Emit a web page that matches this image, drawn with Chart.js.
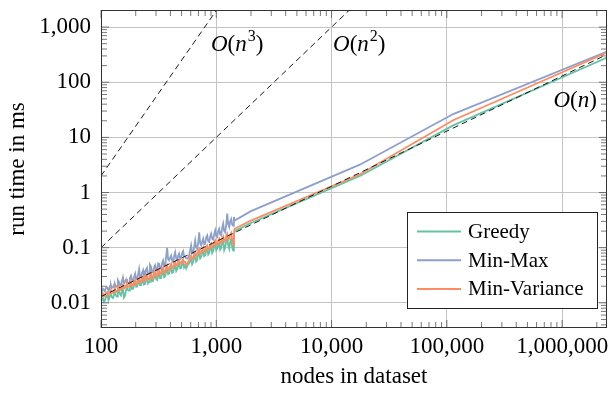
<!DOCTYPE html>
<html>
<head>
<meta charset="utf-8">
<script src="https://cdn.jsdelivr.net/npm/chart.js@4.4.1/dist/chart.umd.min.js"></script>
<style>
  html, body { margin: 0; padding: 0; background: #fff; }
  #wrap { width: 609px; height: 397px; }
</style>
</head>
<body>
<div id="wrap"><canvas id="runtime"></canvas></div>
<script>
// nodes in dataset (x values)
const nodes = [
    100, 102, 104, 106, 108, 110, 113, 115, 117, 120,
    122, 124, 127, 130, 132, 135, 138, 140, 143, 146,
    149, 152, 155, 158, 162, 165, 168, 171, 175, 178,
    182, 186, 190, 194, 198, 202, 206, 210, 214, 218,
    223, 227, 232, 236, 241, 246, 251, 256, 261, 266,
    272, 277, 283, 289, 295, 301, 307, 313, 319, 325,
    332, 339, 346, 353, 360, 367, 375, 382, 390, 398,
    406, 414, 422, 431, 440, 449, 458, 467, 476, 486,
    496, 506, 516, 526, 537, 548, 559, 570, 582, 593,
    605, 617, 630, 643, 656, 669, 683, 697, 711, 725,
    740, 755, 770, 785, 801, 817, 834, 851, 868, 885,
    903, 921, 940, 959, 979, 999, 1019, 1039, 1060, 1081,
    1103, 1125, 1148, 1171, 1195, 1219, 1244, 1269, 1295, 1321,
    1348, 1375, 1403, 1421, 1440,
    2000, 17600, 113500, 2450000,
];

// run time in ms
const greedy = [
    0.0113, 0.0118, 0.0122, 0.0105, 0.011, 0.0128, 0.0136, 0.0121, 0.0117, 0.0135,
    0.0146, 0.0128, 0.0122, 0.0142, 0.0157, 0.0135, 0.013, 0.0158, 0.017, 0.0145,
    0.0136, 0.0162, 0.018, 0.0125, 0.0136, 0.0175, 0.0198, 0.0172, 0.0167, 0.0195,
    0.0215, 0.0178, 0.018, 0.021, 0.024, 0.0195, 0.0198, 0.0228, 0.0254, 0.021,
    0.021, 0.0245, 0.027, 0.0215, 0.022, 0.026, 0.029, 0.0225, 0.024, 0.028,
    0.031, 0.0245, 0.025, 0.029, 0.034, 0.027, 0.026, 0.031, 0.036, 0.028,
    0.028, 0.034, 0.039, 0.029, 0.03, 0.037, 0.041, 0.033, 0.034, 0.04,
    0.046, 0.035, 0.036, 0.043, 0.05, 0.038, 0.041, 0.047, 0.052, 0.042,
    0.043, 0.05, 0.055, 0.044, 0.048, 0.042, 0.046, 0.05, 0.052, 0.058,
    0.063, 0.05, 0.055, 0.066, 0.072, 0.056, 0.06, 0.075, 0.083, 0.064,
    0.068, 0.08, 0.089, 0.07, 0.072, 0.088, 0.095, 0.075, 0.08, 0.098,
    0.105, 0.08, 0.087, 0.108, 0.115, 0.09, 0.095, 0.112, 0.12, 0.092,
    0.1, 0.125, 0.136, 0.09, 0.1, 0.13, 0.15, 0.11, 0.095, 0.13,
    0.146, 0.1, 0.089, 0.16, 0.2,
    0.28, 2.0, 16.5, 280,
];
const minMax = [
    0.0167, 0.0158, 0.018, 0.0172, 0.0163, 0.0185, 0.019, 0.0176, 0.017, 0.0205,
    0.021, 0.0185, 0.019, 0.0215, 0.022, 0.0195, 0.020, 0.026, 0.024, 0.021,
    0.021, 0.025, 0.029, 0.0225, 0.024, 0.0265, 0.027, 0.022, 0.023, 0.028,
    0.031, 0.026, 0.025, 0.03, 0.034, 0.027, 0.026, 0.033, 0.041, 0.03,
    0.029, 0.035, 0.039, 0.03, 0.031, 0.04, 0.043, 0.033, 0.034, 0.049,
    0.045, 0.036, 0.035, 0.044, 0.048, 0.04, 0.038, 0.052, 0.051, 0.042,
    0.041, 0.053, 0.059, 0.045, 0.046, 0.068, 0.1, 0.062, 0.059, 0.066,
    0.072, 0.058, 0.055, 0.07, 0.083, 0.064, 0.06, 0.071, 0.078, 0.062,
    0.066, 0.08, 0.087, 0.07, 0.069, 0.064, 0.063, 0.066, 0.072, 0.09,
    0.11, 0.08, 0.079, 0.105, 0.136, 0.1, 0.095, 0.125, 0.19, 0.12,
    0.11, 0.13, 0.146, 0.115, 0.118, 0.155, 0.168, 0.13, 0.127, 0.16,
    0.18, 0.145, 0.14, 0.175, 0.206, 0.16, 0.156, 0.2, 0.22, 0.175,
    0.168, 0.23, 0.273, 0.2, 0.19, 0.26, 0.414, 0.27, 0.237, 0.3,
    0.33, 0.26, 0.25, 0.36, 0.31,
    0.46, 3.2, 26.5, 360,
];
const minVariance = [
    0.013, 0.0139, 0.0146, 0.0132, 0.0136, 0.0151, 0.0157, 0.0144, 0.0142, 0.016,
    0.0167, 0.0152, 0.015, 0.0172, 0.018, 0.0158, 0.0163, 0.0185, 0.0198, 0.0172,
    0.017, 0.0205, 0.0215, 0.0182, 0.019, 0.021, 0.0227, 0.0195, 0.0198, 0.0225,
    0.024, 0.0205, 0.021, 0.0245, 0.026, 0.0215, 0.022, 0.0262, 0.028, 0.0235,
    0.024, 0.0285, 0.03, 0.025, 0.0254, 0.031, 0.033, 0.0265, 0.027, 0.032,
    0.035, 0.0285, 0.028, 0.034, 0.038, 0.031, 0.03, 0.037, 0.04, 0.033,
    0.033, 0.04, 0.044, 0.036, 0.035, 0.043, 0.048, 0.04, 0.039, 0.046,
    0.051, 0.043, 0.044, 0.05, 0.055, 0.047, 0.048, 0.056, 0.059, 0.05,
    0.051, 0.058, 0.062, 0.054, 0.055, 0.049, 0.05, 0.056, 0.06, 0.068,
    0.072, 0.062, 0.066, 0.076, 0.083, 0.07, 0.072, 0.088, 0.095, 0.078,
    0.08, 0.092, 0.1, 0.084, 0.087, 0.102, 0.11, 0.092, 0.095, 0.112,
    0.12, 0.1, 0.105, 0.125, 0.136, 0.112, 0.115, 0.135, 0.146, 0.118,
    0.12, 0.145, 0.16, 0.13, 0.136, 0.165, 0.18, 0.14, 0.146, 0.17,
    0.185, 0.14, 0.11, 0.17, 0.22,
    0.31, 2.15, 20.5, 345,
];

// reference complexity lines, end points only
const refNodes = [100, 2450000];
const oN = [0.013, 318.5];
const oN2 = [0.1, 6.0e7];
const oN3 = [2, 2.94e13];

const xTicks = [100, 1000, 10000, 100000, 1000000];
const yTicks = [0.01, 0.1, 1, 10, 100, 1000];

const serif = '"Liberation Serif", "Times New Roman", serif';
Chart.defaults.font.family = serif;
Chart.defaults.color = "#000";

function pts(xs, ys) {
    return xs.map((x, i) => ({ x: x, y: ys[i] }));
}

const series = [
    { label: "Greedy", data: greedy, color: "#66c2a5", order: 3 },
    { label: "Min-Max", data: minMax, color: "#8da0cb", order: 2 },
    { label: "Min-Variance", data: minVariance, color: "#fc8d62", order: 1 },
];

const datasets = series.map((s) => ({
    label: s.label,
    data: pts(nodes, s.data),
    borderColor: s.color,
    borderWidth: 1.8,
    pointRadius: 0,
    tension: 0,
    order: s.order,
}));

[oN, oN2, oN3].forEach((d) => {
    datasets.push({
        label: "",
        data: pts(refNodes, d),
        borderColor: "#1a1a1a",
        borderWidth: 1,
        borderDash: [6, 4],
        pointRadius: 0,
        order: 0,
    });
});

// O(n^k) labels: [exponent, node position, value at baseline]
const bigO = [
    ["3", 900, 361],
    ["2", 10300, 361],
    ["", 840000, 36],
];

function drawBigO(ctx, x, y, exp) {
    const it = "italic 23px " + serif;
    const up = "23px " + serif;
    const parts = [[it, "O"], [up, "("], [it, "n"]];
    ctx.textBaseline = "alphabetic";
    ctx.textAlign = "left";
    parts.forEach((p) => {
        ctx.font = p[0];
        ctx.fillText(p[1], x, y);
        x += ctx.measureText(p[1]).width;
    });
    if (exp) {
        ctx.font = "16px " + serif;
        ctx.fillText(exp, x + 1, y - 10);
        x += ctx.measureText(exp).width + 1;
    }
    ctx.font = up;
    ctx.fillText(")", x, y);
}

const decor = {
    id: "decor",
    afterDatasetsDraw(chart) {
        const ctx = chart.ctx;
        const a = chart.chartArea;
        const xs = chart.scales.x;
        const ys = chart.scales.y;
        ctx.save();

        // minor and major tick marks on all four sides
        ctx.strokeStyle = "#555";
        ctx.lineWidth = 0.8;
        ctx.beginPath();
        for (let e = 2; e <= 6; e++) {
            for (let m = 1; m <= 9; m++) {
                const v = m * Math.pow(10, e);
                if (v < xs.min || v > xs.max) continue;
                const px = xs.getPixelForValue(v);
                const len = m === 1 ? 8 : 6;
                ctx.moveTo(px, a.bottom);
                ctx.lineTo(px, a.bottom - len);
                ctx.moveTo(px, a.top);
                ctx.lineTo(px, a.top + len);
            }
        }
        for (let e = -3; e <= 3; e++) {
            for (let m = 1; m <= 9; m++) {
                const v = m * Math.pow(10, e);
                if (v < ys.min || v > ys.max) continue;
                const py = ys.getPixelForValue(v);
                const len = m === 1 ? 8 : 6;
                ctx.moveTo(a.left, py);
                ctx.lineTo(a.left + len, py);
                ctx.moveTo(a.right, py);
                ctx.lineTo(a.right - len, py);
            }
        }
        ctx.stroke();

        // frame
        ctx.strokeStyle = "#333";
        ctx.lineWidth = 1;
        ctx.strokeRect(a.left + 0.5, a.top + 0.5, a.right - a.left - 1, a.bottom - a.top - 1);

        // complexity labels
        ctx.fillStyle = "#000";
        bigO.forEach((b) => {
            drawBigO(ctx, xs.getPixelForValue(b[1]), ys.getPixelForValue(b[2]), b[0]);
        });

        // legend box, bottom right inside the plot
        const lw = 190, lh = 96;
        const lx = a.right - 10 - lw;
        const ly = a.bottom - 20 - lh;
        ctx.fillStyle = "#fff";
        ctx.fillRect(lx, ly, lw, lh);
        ctx.strokeStyle = "#222";
        ctx.lineWidth = 1;
        ctx.strokeRect(Math.round(lx) + 0.5, Math.round(ly) + 0.5, lw, lh);
        ctx.font = "21px " + serif;
        ctx.textBaseline = "middle";
        ctx.textAlign = "left";
        series.forEach((s, i) => {
            const ry = ly + 19.5 + i * 28.7;
            ctx.strokeStyle = s.color;
            ctx.lineWidth = 2;
            ctx.beginPath();
            ctx.moveTo(lx + 10, ry);
            ctx.lineTo(lx + 54, ry);
            ctx.stroke();
            ctx.fillStyle = "#000";
            ctx.fillText(s.label, lx + 61, ry + 1);
        });
        ctx.restore();
    },
};

const ctxRun = document.getElementById("runtime").getContext("2d");

const config = {
    type: "line",
    data: { datasets: datasets },
    options: {
        responsive: true,
        maintainAspectRatio: false,
        animation: false,
        layout: { padding: { top: 10, right: 2, left: 0, bottom: 0 } },
        plugins: {
            legend: { display: false },
            tooltip: { enabled: false },
        },
        scales: {
            x: {
                type: "logarithmic",
                min: 100,
                max: 2450000,
                bounds: "data",
                afterBuildTicks: (scale) => {
                    scale.ticks = xTicks.map((v) => ({ value: v }));
                },
                afterFit: (scale) => {
                    scale.height = 69;
                    scale.paddingLeft = 0;
                    scale.paddingRight = 0;
                },
                grid: { color: "#c4c4c4", lineWidth: 1, drawTicks: false },
                border: { display: false },
                ticks: {
                    autoSkip: false,
                    maxRotation: 0,
                    padding: 5,
                    font: { size: 23 },
                    callback: (v) => Number(v).toLocaleString("en-US"),
                },
                title: {
                    display: true,
                    text: "nodes in dataset",
                    font: { size: 23 },
                    padding: { top: 0, bottom: 6 },
                },
            },
            y: {
                type: "logarithmic",
                min: 0.0035,
                max: 2040,
                bounds: "data",
                afterBuildTicks: (scale) => {
                    scale.ticks = yTicks.map((v) => ({ value: v }));
                },
                afterFit: (scale) => {
                    scale.width = 101;
                    scale.paddingTop = 0;
                    scale.paddingBottom = 0;
                },
                grid: { color: "#c4c4c4", lineWidth: 1, drawTicks: false },
                border: { display: false },
                ticks: {
                    autoSkip: false,
                    padding: 10,
                    font: { size: 23 },
                    callback: (v) => Number(v).toLocaleString("en-US"),
                },
                title: {
                    display: true,
                    text: "run time in ms",
                    font: { size: 23 },
                    padding: { top: 4, bottom: 0 },
                },
            },
        },
    },
    plugins: [decor],
};

const chart = new Chart(ctxRun, config);
</script>
</body>
</html>
